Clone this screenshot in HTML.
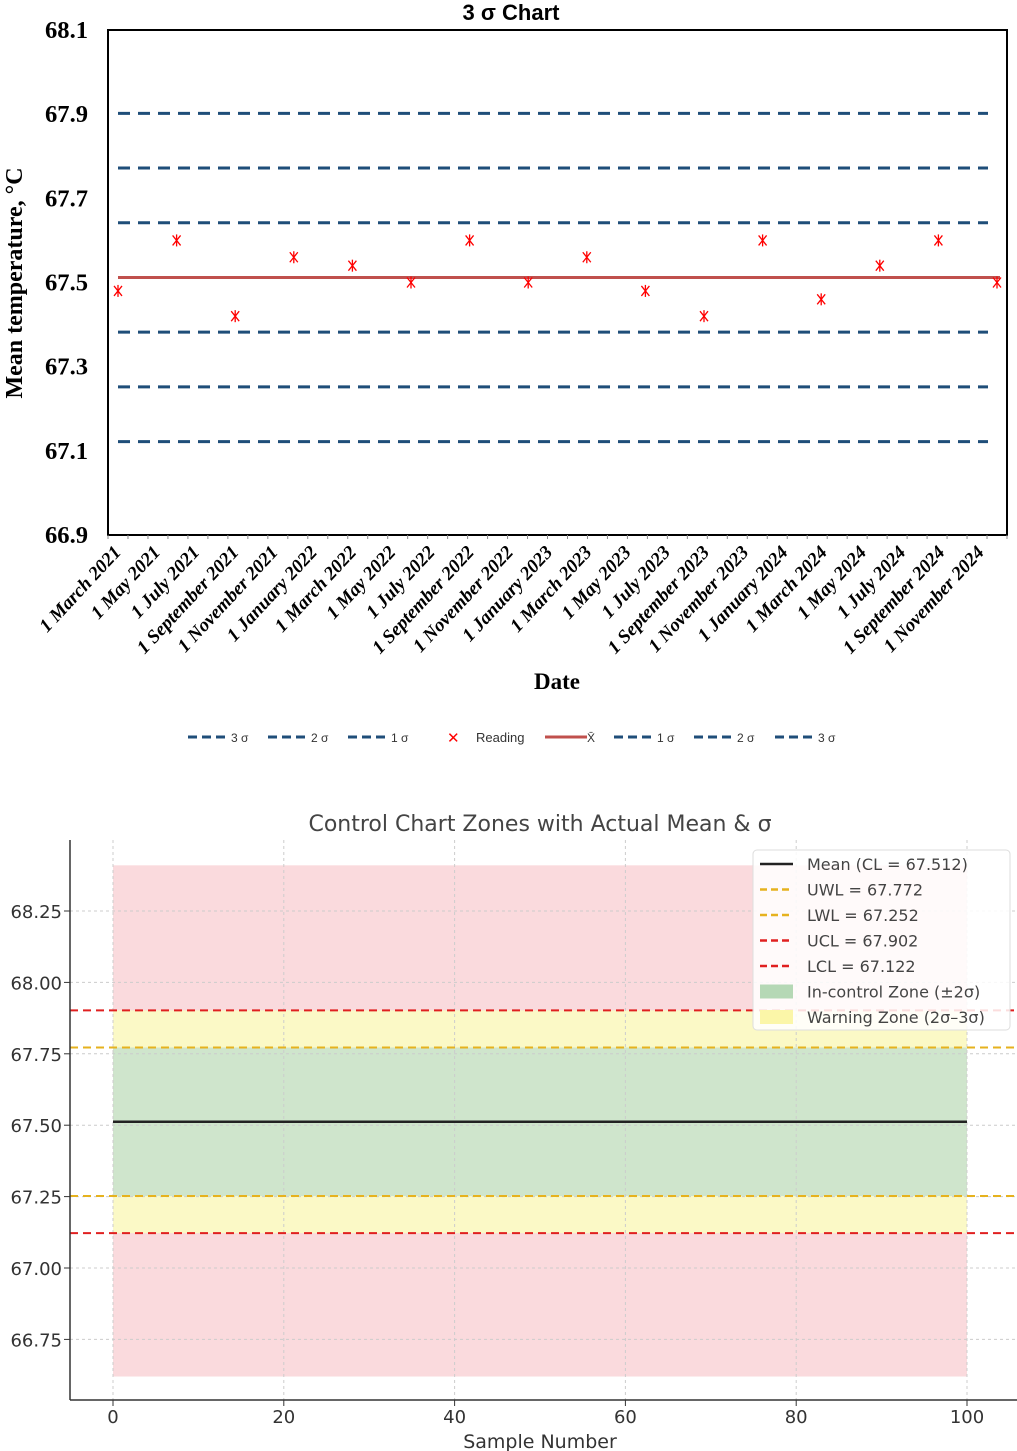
<!DOCTYPE html>
<html><head><meta charset="utf-8"><style>
body{margin:0;background:#fff;width:1017px;height:1451px;overflow:hidden}
svg{display:block}
</style></head><body>
<svg width="1017" height="1451" xmlns="http://www.w3.org/2000/svg">
<g id="top"></g>
<g id="bot"></g>
</svg>
<script>
const NS="http://www.w3.org/2000/svg";
function mk(p,t,a,txt){const e=document.createElementNS(NS,t);for(const k in a)e.setAttribute(k,a[k]);if(txt!==undefined)e.textContent=txt;p.appendChild(e);return e;}

// ---- Top chart data ----
const dateLabels=["1 March 2021","1 May 2021","1 July 2021","1 September 2021","1 November 2021","1 January 2022","1 March 2022","1 May 2022","1 July 2022","1 September 2022","1 November 2022","1 January 2023","1 March 2023","1 May 2023","1 July 2023","1 September 2023","1 November 2023","1 January 2024","1 March 2024","1 May 2024","1 July 2024","1 September 2024","1 November 2024"];
const readings=[67.48,67.60,67.42,67.56,67.54,67.50,67.60,67.50,67.56,67.48,67.42,67.60,67.46,67.54,67.60,67.50];
const meanVal=67.512;
const sigmaLevels=[67.902,67.772,67.642,67.382,67.252,67.122];
const yTicksTop=[66.9,67.1,67.3,67.5,67.7,67.9,68.1];

const T=document.getElementById('top');
const L=108,R=1007,TT=30,B=535;
const yT=v=>B-(v-66.9)/1.2*(B-TT);
const xR=i=>118+i*(997-118)/(readings.length-1);
mk(T,'rect',{x:L,y:TT,width:R-L,height:B-TT,fill:'#fff',stroke:'#000','stroke-width':2});
let e=mk(T,'text',{x:511,y:20,'text-anchor':'middle','font-family':'Liberation Sans, sans-serif','font-weight':'bold','font-size':22},'3 σ Chart');

yTicksTop.forEach(v=>{const t=mk(T,'text',{x:88,y:yT(v)+8,'text-anchor':'end','font-family':'Liberation Serif, serif','font-weight':'bold','font-size':24,'textLength':43,'lengthAdjust':'spacingAndGlyphs'},v.toFixed(1));
});
e=mk(T,'text',{transform:'translate(22,283) rotate(-90)','text-anchor':'middle','font-family':'Liberation Serif, serif','font-weight':'bold','font-size':24},'Mean temperature, °C');

sigmaLevels.forEach(v=>{const l=mk(T,'line',{x1:118,x2:988,y1:yT(v),y2:yT(v),stroke:'#1f4e79','stroke-width':3,'stroke-dasharray':'12 8'});
});
e=mk(T,'line',{x1:118,x2:1000,y1:yT(meanVal),y2:yT(meanVal),stroke:'#c0504d','stroke-width':3});

readings.forEach((v,i)=>{const x=xR(i),y=yT(v);const g=mk(T,'g',{stroke:'#ff0000','stroke-width':1.3});

mk(g,'line',{x1:x-4,y1:y-5,x2:x+4,y2:y+5});mk(g,'line',{x1:x+4,y1:y-5,x2:x-4,y2:y+5});mk(g,'line',{x1:x,y1:y-6,x2:x,y2:y+6});});
for(let i=0;i<=45;i++){mk(T,'line',{x1:L+i*(R-L)/45,x2:L+i*(R-L)/45,y1:B,y2:B+4,stroke:'#888','stroke-width':1});}
dateLabels.forEach((s,i)=>{const x=122+i*(985-122)/(dateLabels.length-1);
const t=mk(T,'text',{transform:`translate(${x},${553}) rotate(-47)`,'text-anchor':'end','font-family':'Liberation Serif, serif','font-weight':'bold','font-style':'italic','font-size':19},s);
});
e=mk(T,'text',{x:557,y:689,'text-anchor':'middle','font-family':'Liberation Serif, serif','font-weight':'bold','font-size':23},'Date');

// legend
const legItems=[["d","3 σ"],["d","2 σ"],["d","1 σ"],["x","Reading"],["m","X̄"],["d","1 σ"],["d","2 σ"],["d","3 σ"]];
const legX=[188,268,348,447,545,614,694,775];
legItems.forEach((it,i)=>{const g=mk(T,'g',{});
const x=legX[i],y=737;
if(it[0]=='d'){mk(g,'line',{x1:x,x2:x+40,y1:y,y2:y,stroke:'#1f4e79','stroke-width':3,'stroke-dasharray':'9 5'});mk(g,'text',{x:x+43,y:y+5,'font-family':'Liberation Sans, sans-serif','font-size':12,fill:'#333'},it[1]);}
else if(it[0]=='x'){mk(g,'text',{x:x,y:y+6,'font-family':'Liberation Sans, sans-serif','font-size':15,fill:'#f00'},'✕');mk(g,'text',{x:x+29,y:y+5,'font-family':'Liberation Sans, sans-serif','font-size':13,fill:'#333'},it[1]);}
else{mk(g,'line',{x1:x,x2:x+42,y1:y,y2:y,stroke:'#c0504d','stroke-width':3});mk(g,'text',{x:x+42,y:y+5,'font-family':'Liberation Sans, sans-serif','font-size':12,fill:'#333'},it[1]);}});

// ---- Bottom chart data ----
const zoneLimits={cl:67.512,uwl:67.772,lwl:67.252,ucl:67.902,lcl:67.122};
const redZone=[66.62,68.41];
const xTicksBot=[0,20,40,60,80,100];
const yTicksBot=[66.75,67.00,67.25,67.50,67.75,68.00,68.25];
const Bo=document.getElementById('bot');
const xB=v=>113+v*(967-113)/100;
const yB=v=>1268-(v-67)*(1268-911)/1.25;
const F='DejaVu Sans, Liberation Sans, sans-serif';
e=mk(Bo,'rect',{x:xB(0),y:yB(redZone[1]),width:xB(100)-xB(0),height:yB(redZone[0])-yB(redZone[1]),fill:'#fadadd'});
e=mk(Bo,'rect',{x:xB(0),y:yB(zoneLimits.ucl),width:xB(100)-xB(0),height:yB(zoneLimits.lcl)-yB(zoneLimits.ucl),fill:'#fbf9c6'});
e=mk(Bo,'rect',{x:xB(0),y:yB(zoneLimits.uwl),width:xB(100)-xB(0),height:yB(zoneLimits.lwl)-yB(zoneLimits.uwl),fill:'#cfe5cc'});
xTicksBot.forEach(v=>{mk(Bo,'line',{x1:xB(v),x2:xB(v),y1:840,y2:1400,stroke:'#ccc','stroke-width':1,'stroke-dasharray':'3 3'});
mk(Bo,'line',{x1:xB(v),x2:xB(v),y1:1400,y2:1406,stroke:'#333'});
const t=mk(Bo,'text',{x:xB(v),y:1423,'text-anchor':'middle','font-family':F,'font-size':18,fill:'#333'},String(v));});
yTicksBot.forEach(v=>{mk(Bo,'line',{x1:70,x2:1017,y1:yB(v),y2:yB(v),stroke:'#ccc','stroke-width':1,'stroke-dasharray':'3 3'});
mk(Bo,'line',{x1:64,x2:70,y1:yB(v),y2:yB(v),stroke:'#333'});
const t=mk(Bo,'text',{x:62,y:yB(v)+7,'text-anchor':'end','font-family':F,'font-size':18,fill:'#333'},v.toFixed(2));});
[['uwl','#e6b21e'],['lwl','#e6b21e'],['ucl','#e02020'],['lcl','#e02020']].forEach(([k,c])=>{const l=mk(Bo,'line',{x1:70,x2:1017,y1:yB(zoneLimits[k]),y2:yB(zoneLimits[k]),stroke:c,'stroke-width':2,'stroke-dasharray':'8 5'});});
e=mk(Bo,'line',{x1:xB(0),x2:xB(100),y1:yB(zoneLimits.cl),y2:yB(zoneLimits.cl),stroke:'#222','stroke-width':2.5});
mk(Bo,'line',{x1:70,x2:70,y1:840,y2:1400,stroke:'#333','stroke-width':1.5});
mk(Bo,'line',{x1:70,x2:1017,y1:1400,y2:1400,stroke:'#333','stroke-width':1.5});
e=mk(Bo,'text',{x:540,y:831,'text-anchor':'middle','font-family':F,'font-size':22,fill:'#444'},'Control Chart Zones with Actual Mean & σ');
e=mk(Bo,'text',{x:540,y:1448,'text-anchor':'middle','font-family':F,'font-size':19,fill:'#333'},'Sample Number');
const lg=mk(Bo,'g',{});
mk(lg,'rect',{x:753,y:850,width:257,height:180,rx:4,fill:'#fff','fill-opacity':0.85,stroke:'#ddd'});
const lgItems=[['l','#222','','Mean (CL = 67.512)'],['d','#e6b21e','','UWL = 67.772'],['d','#e6b21e','','LWL = 67.252'],['d','#e02020','','UCL = 67.902'],['d','#e02020','','LCL = 67.122'],['p','#b5d8b5','','In-control Zone (±2σ)'],['p','#fbf6a8','','Warning Zone (2σ–3σ)']];
lgItems.forEach((it,i)=>{const y=864+i*25.5;const g=mk(lg,'g',{});
if(it[0]=='p')mk(g,'rect',{x:760,y:y-7,width:33,height:14,fill:it[1]});
else mk(g,'line',{x1:760,x2:793,y1:y,y2:y,stroke:it[1],'stroke-width':2.5,'stroke-dasharray':it[0]=='d'?'7 4':'none'});
mk(g,'text',{x:807,y:y+6,'font-family':F,'font-size':16,fill:'#444'},it[3]);});
</script>
</body></html>
